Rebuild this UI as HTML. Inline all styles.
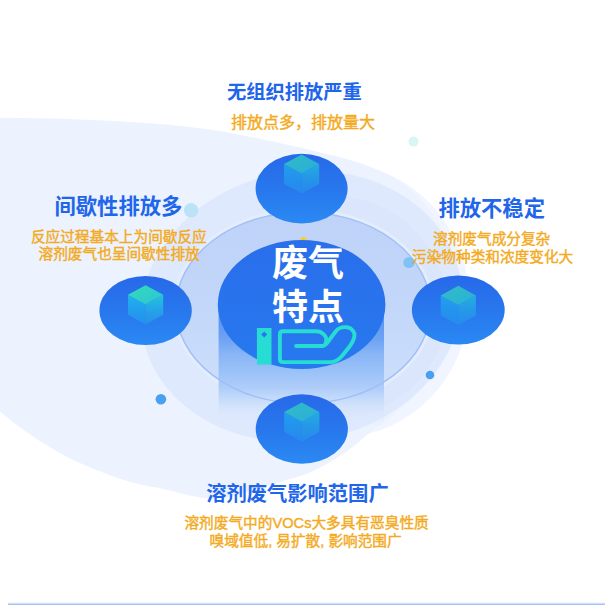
<!DOCTYPE html>
<html lang="zh"><head><meta charset="utf-8"><title>废气特点</title>
<style>
html,body{margin:0;padding:0;background:#fff}
body{width:605px;height:605px;overflow:hidden;position:relative;font-family:"Liberation Sans","Noto Sans CJK SC",sans-serif}
svg{position:absolute;left:0;top:0;display:block}
svg text{font-family:"Liberation Sans","Noto Sans CJK SC",sans-serif}
</style></head><body>
<svg width="605" height="605" viewBox="0 0 605 605" role="img" aria-label="废气特点">
<defs>
<linearGradient id="sg" x1="0" y1="0" x2="0" y2="1"><stop offset="0" stop-color="#2769e9"/><stop offset="0.5" stop-color="#2877ed"/><stop offset="1" stop-color="#2a89f3"/></linearGradient>
<linearGradient id="cg" x1="0" y1="0" x2="0" y2="1"><stop offset="0" stop-color="#2a6eeb"/><stop offset="1" stop-color="#2779ef"/></linearGradient>
<linearGradient id="body" x1="0" y1="0" x2="0" y2="1"><stop offset="0" stop-color="#4e8af0"/><stop offset="0.292" stop-color="#6fa3f3"/><stop offset="0.416" stop-color="#8ab6f6"/><stop offset="0.556" stop-color="#9bc2f8"/><stop offset="0.687" stop-color="#afcdf9"/><stop offset="0.802" stop-color="#c9defb" stop-opacity="0.95"/><stop offset="0.885" stop-color="#d6e5fc" stop-opacity="0.6"/><stop offset="1" stop-color="#dce8fd" stop-opacity="0"/></linearGradient>
<linearGradient id="ct" x1="0" y1="0" x2="1" y2="1"><stop offset="0" stop-color="#36dcb6"/><stop offset="1" stop-color="#2ac4d6"/></linearGradient>
<linearGradient id="cl" x1="0" y1="0" x2="0" y2="1"><stop offset="0" stop-color="#1fb3ef"/><stop offset="1" stop-color="#2493ee" stop-opacity="0.8"/></linearGradient>
<linearGradient id="cr" x1="0" y1="0" x2="0" y2="1"><stop offset="0" stop-color="#22c6de"/><stop offset="1" stop-color="#279cea" stop-opacity="0.6"/></linearGradient>
<linearGradient id="r3" x1="0" y1="0" x2="0" y2="1"><stop offset="0" stop-color="#bfd2f8"/><stop offset="0.5" stop-color="#c2d7fa"/><stop offset="1" stop-color="#cfe0fb"/></linearGradient>
</defs>
<rect width="605" height="605" fill="#fff"/>
<ellipse cx="339.5" cy="300.8" rx="129.7" ry="136.2" fill="#f0f5ff"/>
<path d="M-80.0,118.0 C-63.3,107.6 -25.7,117.6 0.0,117.8 C25.7,118.0 49.4,118.3 74.4,119.2 C99.4,120.1 131.2,121.9 150.0,123.2 C168.8,124.5 174.8,125.4 187.2,126.8 C199.6,128.2 212.0,129.7 224.4,131.8 C236.8,133.9 249.0,136.6 261.6,139.2 C274.2,141.8 289.5,145.0 300.0,147.4 C310.5,149.8 316.5,151.4 324.8,153.5 C333.1,155.6 341.3,157.5 349.6,160.0 C357.9,162.5 366.0,164.9 374.4,168.4 C382.8,171.9 391.6,174.9 400.0,181.0 C408.4,187.1 417.5,196.0 425.0,205.0 C432.5,214.0 440.0,224.2 445.0,235.0 C450.0,245.8 453.3,257.5 455.0,270.0 C456.7,282.5 456.7,296.7 455.0,310.0 C453.3,323.3 450.0,337.5 445.0,350.0 C440.0,362.5 432.5,375.0 425.0,385.0 C417.5,395.0 408.2,402.9 400.0,410.0 C391.8,417.1 382.9,422.0 375.6,427.7 C368.4,433.4 362.4,439.3 356.5,444.0 C350.6,448.7 345.8,452.2 340.0,456.0 C334.2,459.8 327.8,463.4 322.0,466.5 C316.2,469.6 311.7,472.0 305.0,474.5 C298.3,477.0 291.3,478.7 282.0,481.5 C272.7,484.3 257.3,489.0 249.0,491.5 C240.7,494.0 238.5,495.3 232.0,496.5 C225.5,497.7 217.0,498.7 210.0,498.5 C203.0,498.3 197.5,497.0 190.0,495.5 C182.5,494.0 174.7,491.6 165.0,489.5 C155.3,487.4 143.0,485.7 132.0,482.6 C121.0,479.5 110.0,475.4 99.0,471.0 C88.0,466.6 77.0,462.0 66.0,456.2 C55.0,450.4 44.0,443.8 33.0,436.4 C22.0,429.0 12.2,421.8 0.0,411.6 C-12.2,401.4 -26.7,390.3 -40.0,375.0 C-53.3,359.7 -70.0,340.8 -80.0,320.0 C-90.0,299.2 -96.7,273.3 -100.0,250.0 C-103.3,226.7 -103.3,202.0 -100.0,180.0 C-96.7,158.0 -96.7,128.4 -80.0,118.0Z" fill="#ecf3ff"/>
<ellipse cx="301.4" cy="306.2" rx="161.5" ry="134.4" transform="rotate(-11.3 301.4 306.2)" fill="#dfe9fd"/>
<ellipse cx="329" cy="307.5" rx="118" ry="112.5" fill="#dbe6fc"/>
<ellipse cx="303.2" cy="307.9" rx="131" ry="99.4" fill="#e4edfd"/>
<ellipse cx="303.2" cy="307.9" rx="127.3" ry="95.7" fill="url(#r3)"/>
<path d="M218.6,304.5 V426 H384 V304.5 Z" fill="url(#body)"/>
<ellipse cx="303.2" cy="307.9" rx="127.3" ry="95.7" fill="none" stroke="#a0bff5" stroke-width="1.4"/>
<path d="M298.4,240.6 L303.6,236.8 L308.8,240.6 Z" fill="#f4d21f"/>
<ellipse cx="301.6" cy="304.5" rx="83.8" ry="64.5" fill="url(#cg)"/>
<circle cx="191.1" cy="210.3" r="7.2" fill="#bbe2f6"/>
<circle cx="413.5" cy="141.6" r="5" fill="#d9f5f5"/>
<circle cx="408.9" cy="262.5" r="5.6" fill="#7fc2f5"/>
<circle cx="160.9" cy="399.2" r="5.3" fill="#4a9ff1"/>
<circle cx="430" cy="375" r="4.3" fill="#4a9ff1"/>
<ellipse cx="301.6" cy="188.6" rx="46" ry="34.8" fill="url(#sg)"/><g opacity="0.72"><path d="M284.0,164.0 L301.6,173.6 L301.6,193.6 L284.0,184.0 Z" fill="url(#cl)"/><path d="M319.20000000000005,164.0 L301.6,173.6 L301.6,193.6 L319.20000000000005,184.0 Z" fill="url(#cr)"/><path d="M301.6,154.4 L319.20000000000005,164.0 L301.6,173.6 L284.0,164.0 Z" fill="url(#ct)"/></g>
<ellipse cx="145.6" cy="310.5" rx="46.2" ry="34.6" fill="url(#sg)"/><g opacity="1"><path d="M128.0,294.8 L145.6,304.4 L145.6,324.40000000000003 L128.0,314.8 Z" fill="url(#cl)"/><path d="M163.2,294.8 L145.6,304.4 L145.6,324.40000000000003 L163.2,314.8 Z" fill="url(#cr)"/><path d="M145.6,285.2 L163.2,294.8 L145.6,304.4 L128.0,294.8 Z" fill="url(#ct)"/></g>
<ellipse cx="458.3" cy="310" rx="46.4" ry="34.6" fill="url(#sg)"/><g opacity="0.74"><path d="M440.7,295.4 L458.3,304.99999999999994 L458.3,325.0 L440.7,315.4 Z" fill="url(#cl)"/><path d="M475.90000000000003,295.4 L458.3,304.99999999999994 L458.3,325.0 L475.90000000000003,315.4 Z" fill="url(#cr)"/><path d="M458.3,285.79999999999995 L475.90000000000003,295.4 L458.3,304.99999999999994 L440.7,295.4 Z" fill="url(#ct)"/></g>
<ellipse cx="301.8" cy="429" rx="46.1" ry="34.65" fill="url(#sg)"/><g opacity="0.72"><path d="M284.2,412.1 L301.8,421.7 L301.8,441.70000000000005 L284.2,432.1 Z" fill="url(#cl)"/><path d="M319.40000000000003,412.1 L301.8,421.7 L301.8,441.70000000000005 L319.40000000000003,432.1 Z" fill="url(#cr)"/><path d="M301.8,402.5 L319.40000000000003,412.1 L301.8,421.7 L284.2,412.1 Z" fill="url(#ct)"/></g>
<path d="M256.9,328.1 H271.5 V364.5 H256.9 Z M264.2,331.6 L267.2,334.6 L264.2,337.6 L261.2,334.6 Z" fill="#27dcd2" fill-rule="evenodd"/>
<path d="M296.1,346 L322.5,346 C326,346 328,342 330,339 L336,331 C339,327.5 343,326.8 347,327.3 C352,328 355,332 354.4,336 C354,340 352,343 350,346 L342.4,355.5 C339,359.5 336,362 331,362.1 L283,362.1 Q279.9,362.1 279.9,359 L279.9,334.2 Q279.9,331.2 283,331.2 L316,331.2 C322,331.2 326.5,336 326.3,340 C326,343.5 324.5,346 322.5,346" fill="none" stroke="#27dcd2" stroke-width="3.9" stroke-linecap="round" stroke-linejoin="round"/>
<rect x="8" y="602.6" width="597" height="1" fill="#e6eefc"/><rect x="8" y="603.6" width="597" height="1.4" fill="#a3c1f3"/>
<text x="226.95" y="98.8" font-size="19.3" font-weight="700" fill="#1f66ea">无组织排放严重</text>
<text x="231.1" y="128.1" font-size="16" fill="#f4aa20" stroke="#f4aa20" stroke-width="0.4">排放点多，排放量大</text>
<text x="54.5" y="214.3" font-size="21.3" font-weight="700" fill="#1f66ea">间歇性排放多</text>
<text x="30.88" y="241.5" font-size="14.67" fill="#f4aa20" stroke="#f4aa20" stroke-width="0.4">反应过程基本上为间歇反应</text>
<text x="38.52" y="259.4" font-size="14.67" fill="#f4aa20" stroke="#f4aa20" stroke-width="0.4">溶剂废气也呈间歇性排放</text>
<text x="438.45" y="215.9" font-size="21.3" font-weight="700" fill="#1f66ea">排放不稳定</text>
<text x="433.02" y="244.4" font-size="14.67" fill="#f4aa20" stroke="#f4aa20" stroke-width="0.4">溶剂废气成分复杂</text>
<text x="412.01" y="262" font-size="14.67" fill="#f4aa20" stroke="#f4aa20" stroke-width="0.4">污染物种类和浓度变化大</text>
<text x="206.15" y="500.6" font-size="20.3" font-weight="700" fill="#1f66ea">溶剂废气影响范围广</text>
<text x="184.44" y="527.6" font-size="14.67" fill="#f4aa20" stroke="#f4aa20" stroke-width="0.4">溶剂废气中的VOCs大多具有恶臭性质</text>
<text x="209.52" y="546" font-size="14.67" fill="#f4aa20" stroke="#f4aa20" stroke-width="0.4">嗅域值低, 易扩散, 影响范围广</text>
<text x="272.1" y="276.3" font-size="36" font-weight="700" fill="#fff">废气</text>
<text x="272.1" y="320" font-size="36" font-weight="700" fill="#fff">特点</text>
</svg>
</body></html>
